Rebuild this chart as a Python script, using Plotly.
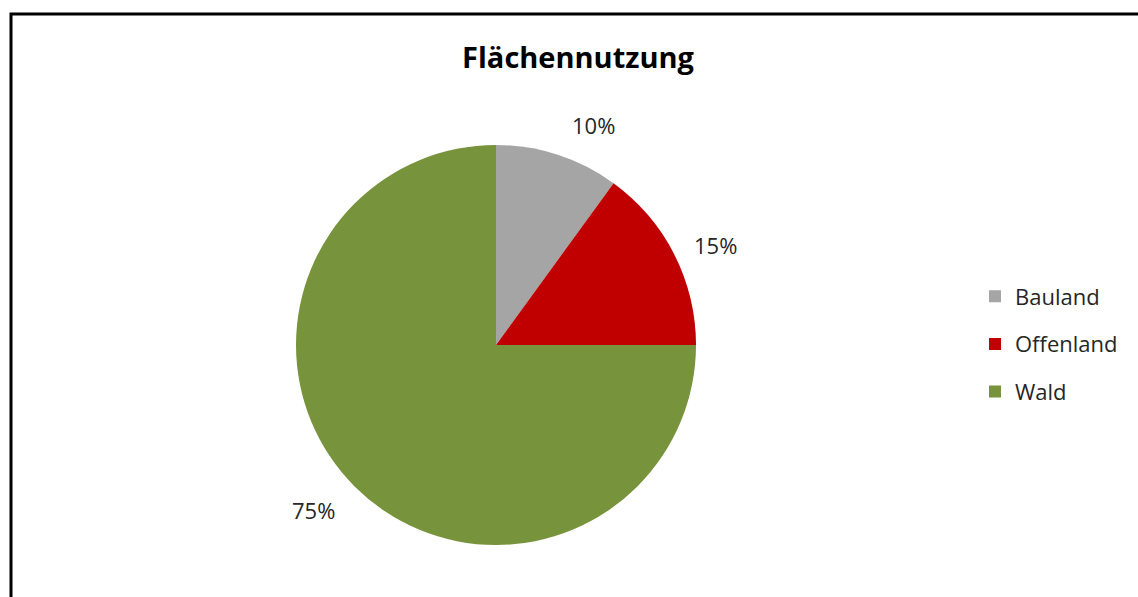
import math
import plotly.graph_objects as go

categories = ["Bauland", "Offenland", "Wald"]
values = [10, 15, 75]
colors = ["#A5A5A5", "#C00000", "#77933C"]
title_text = "Flächennutzung"

W, H = 1138, 597
FONT = "Open Sans"
TXT = "#262626"

# pie geometry in pixels
cx, cy, R = 496, 345, 200
dom_x = [(cx - R) / W, (cx + R) / W]
dom_y = [1 - (cy + R) / H, 1 - (cy - R) / H]

fig = go.Figure()
fig.add_trace(go.Pie(
    labels=categories,
    values=values,
    marker=dict(colors=colors, line=dict(width=0)),
    sort=False,
    direction="clockwise",
    rotation=0,
    textinfo="none",
    domain=dict(x=dom_x, y=dom_y),
    showlegend=False,
    hoverinfo="label+percent",
))

# legend entries (one group each so spacing can match)
for name, col in zip(categories, colors):
    fig.add_trace(go.Scatter(
        x=[None], y=[None], mode="markers", name=name,
        marker=dict(symbol="square", size=12, color=col),
        legendgroup=name, showlegend=True, hoverinfo="skip",
    ))

# percentage labels outside the slices, derived from the values
total = sum(values)
annotations = []
cum = 0.0
for v in values:
    mid = (cum + v / 2) / total * 2 * math.pi
    cum += v
    s, c = math.sin(mid), math.cos(mid)
    r = R + 20
    px = cx + r * s
    py = cy - r * c
    xa = "left" if s > 0.05 else ("right" if s < -0.05 else "center")
    ya = "bottom" if c > 0.5 else ("top" if c < -0.5 else "middle")
    annotations.append(dict(
        x=px / W, y=1 - py / H, xref="paper", yref="paper",
        text=f"{round(v / total * 100)}%", showarrow=False,
        xanchor=xa, yanchor=ya,
        xshift=6 if ya == "bottom" else (-3 if ya == "top" else 0),
        yshift=-6 if ya == "bottom" else (8 if ya == "top" else 0),
        font=dict(family=FONT, size=22, color=TXT),
    ))

fig.update_layout(
    width=W, height=H,
    margin=dict(l=0, r=0, t=0, b=0),
    paper_bgcolor="white",
    plot_bgcolor="white",
    xaxis=dict(visible=False),
    yaxis=dict(visible=False),
    title=dict(text="<b>" + title_text + "</b>", x=578 / W, xanchor="center",
               y=1 - 58 / H, yanchor="middle",
               font=dict(family=FONT, size=29, color="black")),
    legend=dict(x=975 / W, xanchor="left", y=1 - 344 / H, yanchor="middle",
                font=dict(family=FONT, size=22, color=TXT),
                itemwidth=30, tracegroupgap=16, bgcolor="rgba(0,0,0,0)"),
    annotations=annotations,
    shapes=[dict(type="rect", xref="paper", yref="paper",
                 x0=11 / W, x1=1.05, y0=-0.05, y1=1 - 14 / H,
                 line=dict(color="black", width=3), fillcolor="rgba(0,0,0,0)",
                 layer="above")],
)

fig.write_html("out.html", config={"displayModeBar": False},
               post_script="document.body.style.margin='0';")
